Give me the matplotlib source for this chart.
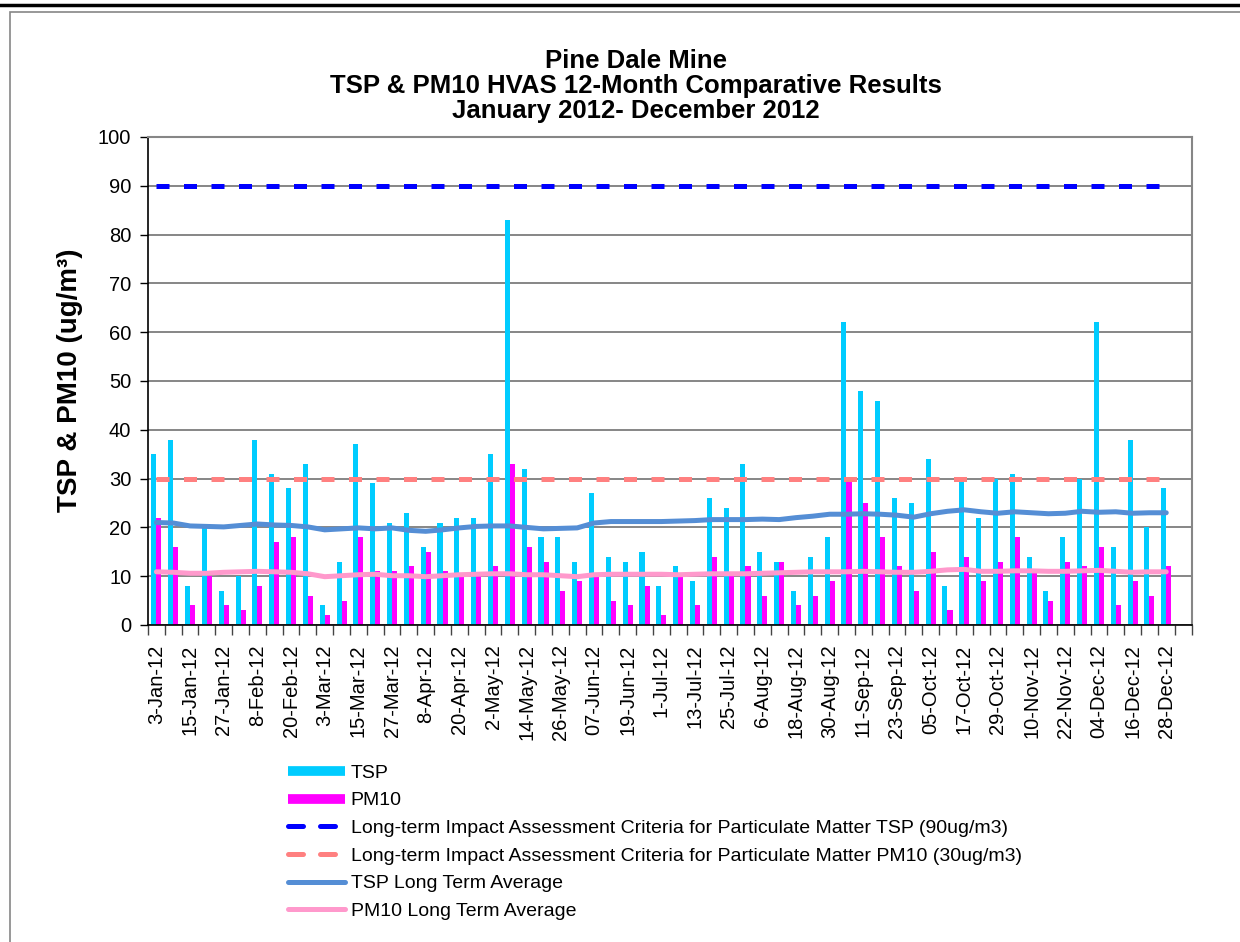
import numpy as np
import matplotlib
matplotlib.use('Agg')
import matplotlib.pyplot as plt
from matplotlib.lines import Line2D
from matplotlib.patches import Rectangle

plt.rcParams['font.family'] = ['Liberation Sans', 'DejaVu Sans']

# sample results, one every 6 days (ug/m3)
tsp = [35, 38, 8, 20, 7, 10, 38, 31, 28, 33, 4, 13, 37, 29, 21, 23, 16, 21, 22, 22,
       35, 83, 32, 18, 18, 13, 27, 14, 13, 15, 8, 12, 9, 26, 24, 33, 15, 13, 7, 14,
       18, 62, 48, 46, 26, 25, 34, 8, 30, 22, 30, 31, 14, 7, 18, 30, 62, 16, 38, 20, 28]
pm10 = [22, 16, 4, 10, 4, 3, 8, 17, 18, 6, 2, 5, 18, 11, 11, 12, 15, 11, 10, 10,
        12, 33, 16, 13, 7, 9, 10, 5, 4, 8, 2, 10, 4, 14, 10, 12, 6, 13, 4, 6,
        9, 30, 25, 18, 12, 7, 15, 3, 14, 9, 13, 18, 11, 5, 13, 12, 16, 4, 9, 6, 12]
tsp_avg = [21.0, 20.9, 20.3, 20.2, 20.1, 20.4, 20.7, 20.5, 20.4, 20.1, 19.5, 19.7, 19.9, 19.7, 19.9,
           19.4, 19.2, 19.5, 19.9, 20.2, 20.3, 20.3, 20.0, 19.7, 19.8, 19.9, 20.9, 21.2, 21.2, 21.2,
           21.2, 21.3, 21.4, 21.6, 21.6, 21.6, 21.7, 21.6, 22.0, 22.3, 22.7, 22.7, 22.8, 22.7, 22.5,
           22.1, 22.8, 23.3, 23.6, 23.2, 22.9, 23.2, 23.0, 22.8, 22.9, 23.3, 23.1, 23.2, 22.9, 23.0, 23.0]
pm10_avg = [10.9, 10.8, 10.6, 10.6, 10.8, 10.9, 11.0, 10.9, 10.8, 10.5, 9.9, 10.1, 10.3, 10.4, 10.1,
            10.1, 9.9, 10.1, 10.3, 10.4, 10.5, 10.5, 10.3, 10.3, 10.1, 9.9, 10.3, 10.4, 10.4, 10.4,
            10.4, 10.3, 10.4, 10.5, 10.5, 10.5, 10.6, 10.7, 10.8, 10.9, 10.9, 10.9, 11.0, 10.9, 10.8,
            10.8, 11.0, 11.3, 11.4, 11.0, 11.0, 11.1, 11.1, 11.0, 11.0, 11.1, 11.2, 11.0, 10.8, 10.9, 10.9]
tsp_criteria = 90
pm10_criteria = 30

# every second sample date is labelled
tick_labels = ['3-Jan-12', '15-Jan-12', '27-Jan-12', '8-Feb-12', '20-Feb-12', '3-Mar-12',
               '15-Mar-12', '27-Mar-12', '8-Apr-12', '20-Apr-12', '2-May-12', '14-May-12',
               '26-May-12', '07-Jun-12', '19-Jun-12', '1-Jul-12', '13-Jul-12', '25-Jul-12',
               '6-Aug-12', '18-Aug-12', '30-Aug-12', '11-Sep-12', '23-Sep-12', '05-Oct-12',
               '17-Oct-12', '29-Oct-12', '10-Nov-12', '22-Nov-12', '04-Dec-12', '16-Dec-12',
               '28-Dec-12']
n_slots = 62  # one empty category after the last sample

legend_labels = ['TSP', 'PM10',
                 'Long-term Impact Assessment Criteria for Particulate Matter TSP (90ug/m3)',
                 'Long-term Impact Assessment Criteria for Particulate Matter PM10 (30ug/m3)',
                 'TSP Long Term Average', 'PM10 Long Term Average']

c_tsp = '#00CCFF'
c_pm10 = '#FF00FF'
c_tsp_crit = '#0000FF'
c_pm10_crit = '#FF8080'
c_tsp_avg = '#558ED5'
c_pm10_avg = '#FF99CC'
c_grid = '#868686'

fig = plt.figure(figsize=(12.4, 9.42), dpi=100)

# page rule and chart frame
fig.add_artist(Line2D([0, 1], [1 - 5 / 942, 1 - 5 / 942], color='black', lw=2.5))
fig.add_artist(Rectangle((10 / 1240, -0.1), 1.2, 1.1 - 12 / 942, transform=fig.transFigure,
                         fill=False, edgecolor='#868686', lw=1.2))

ax = fig.add_axes([148 / 1240, 1 - 625 / 942, (1191.5 - 148) / 1240, (625 - 137) / 942])

x = np.arange(len(tsp))
w = 0.3
ax.bar(x - w / 2, tsp, w, color=c_tsp, zorder=2)
ax.bar(x + w / 2, pm10, w, color=c_pm10, zorder=2)
ax.plot(x, [tsp_criteria] * len(x), color=c_tsp_crit, lw=3.6, dashes=(2.6, 2.9), zorder=3)
ax.plot(x, [pm10_criteria] * len(x), color=c_pm10_crit, lw=3.6, dashes=(2.6, 2.9), zorder=3)
ax.plot(x, tsp_avg, color=c_tsp_avg, lw=3.6, zorder=4, solid_capstyle='round')
ax.plot(x, pm10_avg, color=c_pm10_avg, lw=3.6, zorder=4, solid_capstyle='round')

ax.set_xlim(-0.5, n_slots - 0.5)
ax.set_ylim(0, 100)
ax.set_yticks(np.arange(0, 101, 10))
ax.yaxis.grid(True, color=c_grid, lw=1.4, zorder=0)
ax.set_axisbelow(True)
ax.tick_params(axis='y', labelsize=14.5, length=6, width=1, direction='out', pad=6)

ax.set_xticks(x[::2])
ax.set_xticklabels(tick_labels, rotation=90, fontsize=14.5)
ax.set_xticks(np.arange(n_slots + 1) - 0.5, minor=True)
ax.tick_params(axis='x', which='major', length=0, pad=14)
ax.tick_params(axis='x', which='minor', length=7, width=1, color='#444444')

for s in ['top', 'right']:
    ax.spines[s].set_color(c_grid)
    ax.spines[s].set_linewidth(1.5)
for s in ['left', 'bottom']:
    ax.spines[s].set_color('black')
    ax.spines[s].set_linewidth(1.2)

fig.text(636 / 1240, 1 - 86 / 942,
         'Pine Dale Mine\nTSP & PM10 HVAS 12-Month Comparative Results\nJanuary 2012- December 2012',
         ha='center', va='center', fontsize=18.5, fontweight='bold', linespacing=1.05)
fig.text(70 / 1240, 1 - 380 / 942, 'TSP & PM10 (ug/m³)', rotation=90,
         ha='center', va='center', fontsize=20, fontweight='bold')

handles = [Line2D([], [], color=c_tsp, lw=7, solid_capstyle='butt'),
           Line2D([], [], color=c_pm10, lw=7, solid_capstyle='butt'),
           Line2D([], [], color=c_tsp_crit, lw=3.6, dashes=(3.0, 3.4), dash_capstyle='round'),
           Line2D([], [], color=c_pm10_crit, lw=3.6, dashes=(3.0, 3.4), dash_capstyle='round'),
           Line2D([], [], color=c_tsp_avg, lw=3.6, solid_capstyle='round'),
           Line2D([], [], color=c_pm10_avg, lw=3.6, solid_capstyle='round')]
fig.legend(handles, legend_labels, loc='upper left', bbox_to_anchor=(288 / 1240, 1 - 764 / 942),
           frameon=False, fontsize=14, handlelength=2.93, handletextpad=0.3,
           labelspacing=0.52, borderpad=0, borderaxespad=0)

fig.savefig('out.png', dpi=100)
